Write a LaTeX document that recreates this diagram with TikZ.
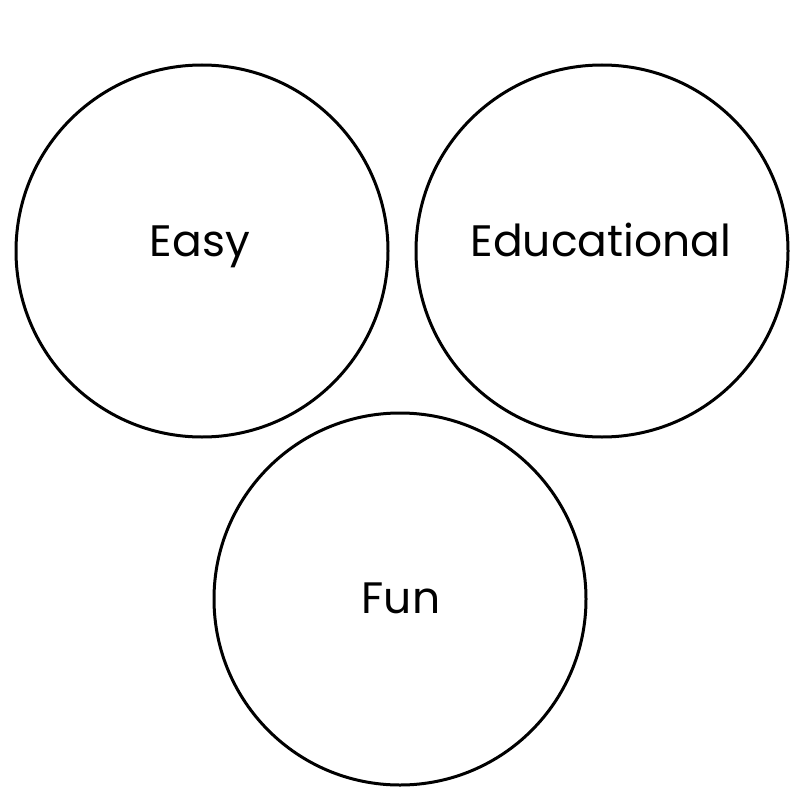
\documentclass[tikz,border=0pt]{standalone}
\usepackage{fontspec}
\setmainfont{Poppins}
\begin{document}
\begin{tikzpicture}[x=1pt,y=-1pt,
  ring/.style={circle,draw=black,line width=3pt,minimum size=372pt,inner sep=0pt},
  lbl/.style={font=\fontsize{44}{50}\selectfont}]
\useasboundingbox (0,0) rectangle (800,800);
\node[ring] (easy) at (202,251) {};
\node[ring] (edu) at (602,251) {};
\node[ring] (fun) at (400,599) {};
\node[lbl,anchor=base] (teasy) at (200,256) {Easy};
\node[lbl,anchor=base] (tedu) at (601,256) {Educational};
\node[lbl,anchor=base] (tfun) at (401,613) {Fun};
\end{tikzpicture}
\end{document}
